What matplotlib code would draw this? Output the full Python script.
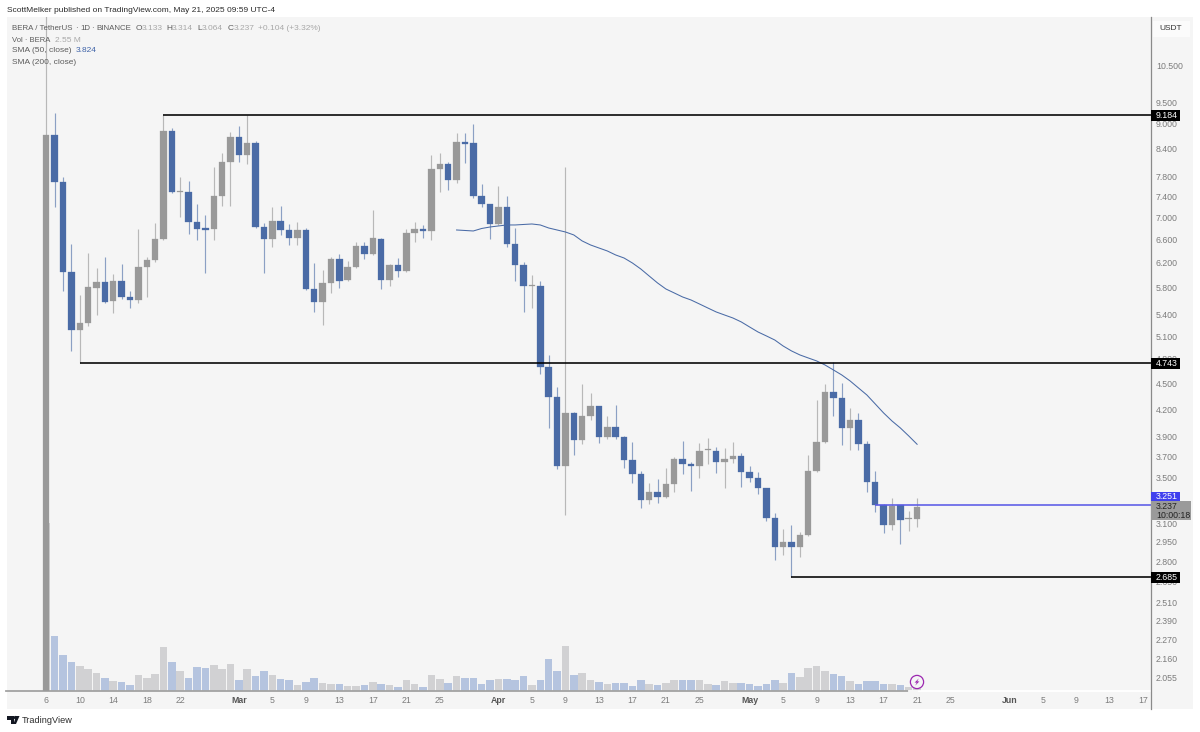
"""
BERA / TetherUS daily candles, log scale, with volume and SMA 50
Values read off the published TradingView chart.
"""

import numpy as np
import pandas as pd
import matplotlib
matplotlib.use('Agg')
import matplotlib.pyplot as plt
import matplotlib.dates as mdates
from matplotlib.patches import Rectangle, Circle, Polygon
from matplotlib.ticker import NullFormatter

"""#################DATA#################"""
opens = [1.649, 8.719, 7.693, 6.052, 5.186, 5.283, 5.800, 5.893, 5.602, 5.909, 5.655, 5.617, 6.134, 6.249, 6.609,
         8.812, 7.490, 7.490, 6.915, 6.796, 6.787, 7.411, 8.114, 8.673, 8.267, 8.535, 6.814, 6.609, 6.933, 6.769,
         6.626, 6.769, 5.784, 5.587, 5.878, 6.266, 5.925, 6.134, 6.487, 6.350, 6.609, 5.925, 6.166, 6.069, 6.715,
         6.778, 6.751, 7.964, 8.060, 7.734, 8.558, 8.535, 7.411, 7.255, 6.878, 7.197, 6.521, 6.166, 5.823, 5.831,
         4.699, 4.338, 3.609, 4.157, 3.868, 4.124, 4.235, 3.899, 4.005, 3.899, 3.668, 3.533, 3.297, 3.368, 3.323,
         3.440, 3.677, 3.629, 3.609, 3.762, 3.757, 3.648, 3.677, 3.707, 3.552, 3.496, 3.404, 3.142, 2.909, 2.948,
         2.909, 3.003, 3.562, 3.848, 4.396, 4.326, 3.994, 4.080, 3.827, 3.459, 3.253, 3.084, 3.253, 3.130, 3.133]
closes = [8.719, 7.693, 6.052, 5.186, 5.283, 5.815, 5.893, 5.587, 5.909, 5.662, 5.610, 6.134, 6.249, 6.609, 8.812,
          7.490, 7.510, 6.915, 6.787, 6.769, 7.411, 8.114, 8.673, 8.267, 8.535, 6.823, 6.609, 6.933, 6.769, 6.626,
          6.769, 5.784, 5.587, 5.878, 6.266, 5.909, 6.134, 6.487, 6.350, 6.626, 5.925, 6.166, 6.069, 6.715, 6.787,
          6.751, 7.964, 8.071, 7.734, 8.558, 8.512, 7.411, 7.255, 6.878, 7.197, 6.521, 6.166, 5.831, 5.839, 4.699,
          4.338, 3.609, 4.157, 3.868, 4.124, 4.235, 3.899, 4.005, 3.899, 3.668, 3.533, 3.297, 3.368, 3.323, 3.440,
          3.677, 3.629, 3.609, 3.757, 3.772, 3.648, 3.677, 3.707, 3.552, 3.496, 3.404, 3.142, 2.909, 2.948, 2.909,
          3.003, 3.562, 3.848, 4.396, 4.326, 3.994, 4.080, 3.827, 3.459, 3.253, 3.084, 3.245, 3.126, 3.138, 3.237]
highs = [12.165, 9.245, 7.796, 6.521, 5.693, 6.367, 6.117, 6.299, 6.020, 6.183, 5.754, 6.787, 6.299, 6.897, 9.196,
         8.883, 7.796, 7.713, 7.255, 7.045, 8.006, 8.311, 8.789, 8.931, 9.196, 8.581, 6.897, 7.197, 7.216, 6.878,
         6.915, 6.805, 6.199, 6.085, 6.299, 6.350, 6.232, 6.556, 6.556, 7.140, 6.626, 6.183, 6.282, 6.787, 6.915,
         6.860, 8.267, 8.311, 8.114, 8.766, 8.766, 8.978, 7.652, 7.255, 7.611, 7.411, 6.805, 6.216, 6.004, 5.909,
         4.852, 4.455, 8.006, 4.168, 4.491, 4.384, 4.235, 4.124, 4.246, 3.910, 3.848, 3.562, 3.450, 3.487, 3.590,
         3.697, 3.858, 3.648, 3.838, 3.889, 3.797, 3.787, 3.848, 3.737, 3.609, 3.552, 3.404, 3.185, 3.052, 3.084,
         3.027, 3.717, 4.303, 4.491, 4.762, 4.503, 4.213, 4.157, 3.858, 3.562, 3.262, 3.314, 3.253, 3.202, 3.314]
lows = [1.649, 7.197, 5.754, 4.904, 4.749, 5.241, 5.397, 5.573, 5.426, 5.632, 5.499, 5.573, 5.662, 6.216, 6.591,
        7.470, 7.008, 6.697, 6.591, 6.036, 6.591, 7.216, 7.216, 8.114, 8.071, 6.805, 6.036, 6.469, 6.680, 6.504,
        6.504, 5.769, 5.441, 5.255, 5.723, 5.800, 5.909, 6.117, 6.266, 6.333, 5.784, 5.831, 5.972, 6.052, 6.556,
        6.626, 6.591, 7.490, 7.530, 7.672, 8.092, 7.372, 7.197, 6.609, 6.860, 6.469, 5.909, 5.441, 5.499, 4.612,
        3.994, 3.581, 3.168, 3.717, 3.827, 4.080, 3.838, 3.879, 3.879, 3.590, 3.450, 3.227, 3.262, 3.271, 3.314,
        3.368, 3.533, 3.377, 3.496, 3.629, 3.543, 3.404, 3.638, 3.413, 3.459, 3.350, 3.117, 2.810, 2.847, 2.685,
        2.832, 2.995, 3.552, 3.838, 4.124, 3.817, 3.767, 3.767, 3.368, 3.193, 3.019, 3.044, 2.932, 3.035, 3.064]
volumes = [117.60, 38.29, 24.99, 20.09, 17.29, 14.91, 12.11, 8.89, 6.79, 5.81, 3.71, 11.20, 8.89, 11.41, 30.31,
           19.81, 13.79, 8.61, 16.31, 15.89, 17.99, 15.40, 18.90, 7.70, 14.91, 10.29, 14.00, 10.71, 8.19, 7.21,
           3.99, 6.30, 8.61, 5.60, 4.41, 4.69, 3.50, 3.50, 3.99, 6.30, 4.69, 3.71, 2.80, 7.49, 4.90,
           2.80, 11.20, 8.19, 5.39, 10.29, 8.89, 8.61, 4.69, 7.49, 8.19, 7.91, 7.49, 10.50, 3.99, 7.21,
           21.91, 14.00, 31.01, 11.20, 12.11, 7.21, 5.81, 4.69, 5.39, 5.39, 3.50, 7.21, 4.69, 4.20, 5.39,
           7.21, 7.21, 7.49, 7.21, 4.90, 3.99, 6.79, 5.11, 5.60, 4.69, 3.01, 4.90, 7.70, 5.11, 12.39,
           9.59, 15.61, 17.29, 13.79, 11.69, 10.29, 6.79, 4.90, 7.00, 7.00, 4.41, 4.90, 3.99, 2.80, 2.55]
# SMA 50 starts on the 50th candle
sma50 = [6.769, 6.760, 6.751, 6.796, 6.823, 6.842, 6.860, 6.860, 6.869, 6.878, 6.860, 6.805, 6.769, 6.733, 6.680,
         6.574, 6.504, 6.452, 6.401, 6.333, 6.282, 6.199, 6.101, 5.988, 5.878, 5.784, 5.723, 5.662, 5.617, 5.558,
         5.499, 5.441, 5.397, 5.354, 5.298, 5.227, 5.158, 5.104, 5.049, 4.969, 4.904, 4.852, 4.813, 4.775, 4.724,
         4.662, 4.600, 4.527, 4.443, 4.361, 4.258, 4.157, 4.069, 3.994, 3.910, 3.824]

price_ticks = [10.5, 9.5, 9.0, 8.4, 7.8, 7.4, 7.0, 6.6, 6.2, 5.8, 5.4, 5.1, 4.8, 4.5, 4.2, 3.9, 3.7, 3.5,
               3.1, 2.95, 2.8, 2.65, 2.51, 2.39, 2.27, 2.16, 2.055]
date_ticks = ['2025-02-06', '2025-02-10', '2025-02-14', '2025-02-18', '2025-02-22', '2025-03-01', '2025-03-05',
              '2025-03-09', '2025-03-13', '2025-03-17', '2025-03-21', '2025-03-25', '2025-04-01', '2025-04-05',
              '2025-04-09', '2025-04-13', '2025-04-17', '2025-04-21', '2025-04-25', '2025-05-01', '2025-05-05',
              '2025-05-09', '2025-05-13', '2025-05-17', '2025-05-21', '2025-05-25', '2025-06-01', '2025-06-05',
              '2025-06-09', '2025-06-13', '2025-06-17']
date_labels = ['6', '10', '14', '18', '22', 'Mar', '5', '9', '13', '17', '21', '25', 'Apr', '5', '9', '13', '17',
               '21', '25', 'May', '5', '9', '13', '17', '21', '25', 'Jun', '5', '9', '13', '17']
month_labels = ['Mar', 'Apr', 'May', 'Jun']

# Horizontal levels: price, first date, colour
levels = [(9.184, '2025-02-20', 'black'), (4.743, '2025-02-10', 'black'),
          (2.685, '2025-05-06', 'black'), (3.251, '2025-05-16', '#5a5ae6')]

"""#################SETUP#################"""
plt.rcParams['font.family'] = ['Liberation Sans', 'DejaVu Sans']
UP = '#999999'
DOWN = '#4a6ba6'
UP_WICK = '#b8b8b8'
DOWN_WICK = '#8ba0c4'
UP_VOL = '#d1d1d3'
DOWN_VOL = '#b5c4df'
TICK = '#7c7c7c'
TEXT = '#5c5c5c'
FADED = '#a8a8a8'

opens = np.array(opens)
closes = np.array(closes)
highs = np.array(highs)
lows = np.array(lows)
dates = mdates.date2num(pd.date_range('2025-02-06', periods=len(opens)))
up = closes >= opens


def fx(x):
    return x / 1200


def fy(y):
    return 1 - y / 732


def label(x, y, s, color=TEXT, size=6.0, **kw):
    fig.text(fx(x), fy(y), s, color=color, fontsize=size, va='center', zorder=6, **kw)


def box(x0, y0, x1, y1, color, z=5):
    fig.add_artist(Rectangle((fx(x0), fy(y1)), fx(x1 - x0), (y1 - y0) / 732, transform=fig.transFigure,
                             facecolor=color, edgecolor='none', zorder=z))


fig = plt.figure(figsize=(12, 7.32), dpi=100, facecolor='white')
box(6.5, 17, 1193, 709, '#f5f5f5', z=-1)

rect = [fx(6.5), fy(690.7), fx(1150.7 - 6.5), (690.7 - 17) / 732]
ax_vol = fig.add_axes(rect, zorder=0)
ax = fig.add_axes(rect, zorder=1)
ax.patch.set_visible(False)
ax_vol.patch.set_visible(False)

"""#################VOLUME#################"""
ax_vol.bar(dates, volumes, width=0.9, color=[UP_VOL if u else DOWN_VOL for u in up], linewidth=0)
ax_vol.set_ylim(0, 471.6)
ax_vol.axis('off')
# Zero line: grey under the bars, white beyond them
ax_vol.plot([dates[0] - 4.75, dates[-1]], [0, 0], color='#a3a3a3', lw=1.3, clip_on=False, zorder=3)
ax_vol.plot([dates[-2], dates[0] + 131.9], [0, 0], color='white', lw=1.3, clip_on=False, zorder=3)

"""#################CANDLES#################"""
ax.vlines(dates, lows, highs, colors=[UP_WICK if u else DOWN_WICK for u in up], lw=0.85, zorder=2)
ax.bar(dates, np.abs(closes - opens), bottom=np.minimum(opens, closes), width=0.77,
       color=[UP if u else DOWN for u in up], edgecolor=[UP if u else DOWN for u in up], linewidth=0.2, zorder=3)
ax.plot(dates[49:], sma50, color='#4a6ba6', lw=0.75, zorder=4)

for price, start, color in levels:
    ax.plot([mdates.datestr2num(start), dates[0] + 131.9], [price, price], color=color, lw=1.15,
            solid_capstyle='butt', zorder=5)

ax.set_yscale('log')
ax.set_xlim(dates[0] - 4.75, dates[0] + 131.9)
ax.set_ylim(1.983, 11.94)
ax_vol.set_xlim(ax.get_xlim())

ax.yaxis.tick_right()
ax.set_yticks(price_ticks)
ax.set_yticklabels(['%.3f' % p for p in price_ticks])
ax.yaxis.set_minor_formatter(NullFormatter())
ax.tick_params(axis='y', which='both', length=0, pad=3.7, labelsize=6.3, labelcolor=TICK)
ax.minorticks_off()

ax.set_xticks(mdates.datestr2num(date_ticks))
ax.set_xticklabels(date_labels)
ax.tick_params(axis='x', length=0, pad=3.6, labelsize=6.3, labelcolor=TICK)
for t in ax.get_xticklabels():
    if t.get_text() in month_labels:
        t.set_fontweight('bold')
        t.set_color('#555555')

for side in ['top', 'left', 'bottom', 'right']:
    ax.spines[side].set_visible(False)
fig.add_artist(plt.Line2D([fx(1150.7)] * 2, [fy(17), fy(709)], color='#8a8a8a', lw=0.9, zorder=4))

"""#################LABELS#################"""
label(7, 11, 'ScottMelker published on TradingView.com, May 21, 2025 09:59 UTC-4', color='#2b2b2b', size=6.05)

for x, s, c, z in [(12, 'BERA / TetherUS', TEXT, 5.7), (75.5, '·', TEXT, 5.7), (80, '1D', TEXT, 5.7),
                   (91.5, '·', TEXT, 5.7), (96, 'BINANCE', TEXT, 5.7), (135.5, 'O', TEXT, 6),
                   (141.5, '3.133', FADED, 6), (166, 'H', TEXT, 6), (172, '3.314', FADED, 6), (197, 'L', TEXT, 6),
                   (202, '3.064', FADED, 6), (227.5, 'C', TEXT, 6), (233.5, '3.237', FADED, 6),
                   (258.5, '+0.104 (+3.32%)', FADED, 6)]:
    label(x, 29, s, color=c, size=z)
label(12, 40, 'Vol · BERA', size=5.5)
label(55, 40, '2.55 M', color=FADED)
label(12, 51, 'SMA (50, close)')
label(76, 51, '3.824', color='#3f63a8')
label(12, 62, 'SMA (200, close)')

# USDT button and price scale labels
box(1153, 21, 1190, 37, '#fbfbfb', z=4)
label(1159, 29, 'USDT', color='#333333', size=6.0)
for y, s in [(115.5, '9.184'), (363.5, '4.743'), (577, '2.685')]:
    box(1151, y - 5.5, 1180, y + 5.5, 'black')
    label(1156, y, s, color='white', size=6.3)
box(1151, 491.5, 1180, 501, '#3f3fee')
label(1156, 496.5, '3.251', color='white', size=6.3)
box(1151, 501, 1191, 520, '#9a9a9a')
label(1156, 506.5, '3.237', color='#222222', size=6.3)
label(1156, 515, '10:00:18', color='#222222', size=6.3)

# Purple flash marker over the last volume bar, logo, drawn in pixel space
ax_px = fig.add_axes([0, 0, 1, 1], zorder=5)
ax_px.set_xlim(0, 1200)
ax_px.set_ylim(732, 0)
ax_px.axis('off')
cx, cy = 917, 682
ax_px.add_patch(Circle((cx, cy), 6.6, facecolor='#f5f5f5', edgecolor='#9c27b0', lw=0.9))
ax_px.add_patch(Polygon([(cx + 1.8, cy - 3.6), (cx - 2.4, cy + 0.6), (cx - 0.2, cy + 0.6), (cx - 1.8, cy + 3.6),
                         (cx + 2.4, cy - 0.6), (cx + 0.2, cy - 0.6)], facecolor='#9c27b0', edgecolor='none'))

for pts in [[(7, 716), (14, 716), (14, 724), (10.5, 724), (10.5, 719.5), (7, 719.5)],
            [(19.5, 716), (16, 724), (13.5, 724), (16, 716)]]:
    ax_px.add_patch(Polygon(pts, facecolor='#131722', edgecolor='none'))
ax_px.add_patch(Circle((15.4, 717.6), 1.7, facecolor='#131722', edgecolor='none'))
label(22, 720.5, 'TradingView', color='#2e2e2e', size=6.55)

fig.savefig('out.png', dpi=100)
